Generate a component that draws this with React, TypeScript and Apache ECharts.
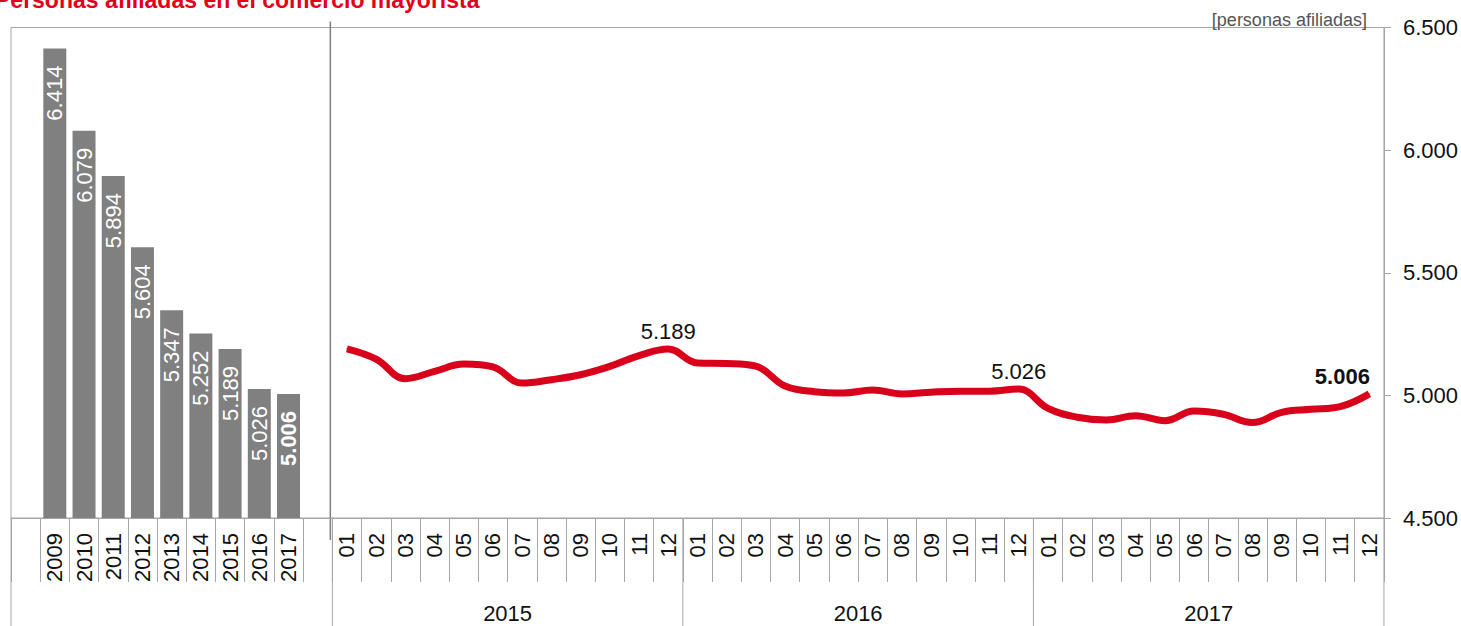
import React, { useEffect, useRef } from "react";
import * as echarts from "echarts";

const TITLE = "Personas afiliadas en el comercio mayorista";
const UNIT = "[personas afiliadas]";
const barYears = ["2009", "2010", "2011", "2012", "2013", "2014", "2015", "2016", "2017"];
const barValues = [6414, 6079, 5894, 5604, 5347, 5252, 5189, 5026, 5006];
const lineYears = ["2015", "2016", "2017"];
const months = ["01", "02", "03", "04", "05", "06", "07", "08", "09", "10", "11", "12"];
const values2015 = [5190, 5148, 5068, 5098, 5128, 5116, 5050, 5064, 5084, 5118, 5162, 5189];
const values2016 = [5132, 5130, 5119, 5038, 5015, 5010, 5022, 5006, 5013, 5017, 5017, 5026];
const values2017 = [4947, 4911, 4900, 4917, 4897, 4936, 4923, 4889, 4931, 4943, 4954, 5006];
const labeledMonth = "12";
const yTicks = [4500, 5000, 5500, 6000, 6500];

const FONT = "'Liberation Sans', Arial, sans-serif";
const FS = 22;
const fmt = (v: number) => String(v).replace(/\B(?=(\d{3})+(?!\d))/g, ".");

export default function App() {
  const ref = useRef<HTMLDivElement>(null);
  useEffect(() => {
    document.body.style.margin = "0";
    const el = ref.current!;
    const chart = echarts.init(el, null, { renderer: "svg" });

    const categories: string[] = ["", ...barYears, ""];
    lineYears.forEach(() => months.forEach((m) => categories.push(m)));
    const leftSlots = barYears.length + 2;

    const barData: any[] = [null];
    barValues.forEach((v, i) =>
      barData.push(
        i === barValues.length - 1 ? { value: v, label: { fontWeight: "bold" } } : v
      )
    );
    while (barData.length < categories.length) barData.push(null);

    const lineData: any[] = [];
    for (let i = 0; i < leftSlots; i++) lineData.push(null);
    const allLine = [values2015, values2016, values2017];
    allLine.forEach((arr, yi) =>
      arr.forEach((v, mi) => {
        if (months[mi] === labeledMonth) {
          const last = yi === allLine.length - 1;
          lineData.push({
            value: v,
            label: {
              show: true,
              fontWeight: last ? "bold" : "normal",
              offset: last ? [-27, 0] : [0, 0],
            },
          });
        } else lineData.push(v);
      })
    );

    chart.setOption({
      animation: false,
      grid: {
        left: 11,
        right: 76,
        top: 27.5,
        bottom: 108,
        show: true,
        borderColor: "#a6a6a6",
        borderWidth: 1,
      },
      xAxis: {
        type: "category",
        data: categories,
        boundaryGap: true,
        axisLine: { show: true, lineStyle: { color: "#a6a6a6" } },
        axisTick: {
          show: true,
          interval: 0,
          length: 64,
          lineStyle: { color: "#a6a6a6" },
        },
        axisLabel: {
          interval: 0,
          rotate: 90,
          margin: 15,
          fontSize: FS,
          fontFamily: FONT,
          color: "#111",
        },
        splitLine: { show: false },
      },
      yAxis: {
        type: "value",
        position: "right",
        min: yTicks[0],
        max: yTicks[yTicks.length - 1],
        interval: 500,
        axisLine: { show: true, lineStyle: { color: "#a6a6a6" } },
        axisTick: { show: true, length: 7, lineStyle: { color: "#a6a6a6" } },
        axisLabel: {
          margin: 19,
          fontSize: FS,
          fontFamily: FONT,
          color: "#111",
          formatter: (v: number) => fmt(v),
        },
        splitLine: { show: false },
      },
      series: [
        {
          type: "bar",
          data: barData,
          barWidth: 23,
          itemStyle: { color: "#808080" },
          label: {
            show: true,
            position: "insideTop",
            distance: 17,
            rotate: 90,
            align: "right",
            verticalAlign: "middle",
            color: "#fff",
            fontSize: FS,
            fontFamily: FONT,
            formatter: (p: any) => fmt(p.value),
          },
        },
        {
          type: "line",
          data: lineData,
          smooth: 0.4,
          showSymbol: true,
          showAllSymbol: true,
          symbol: "circle",
          symbolSize: 1,
          itemStyle: { color: "#d9001c" },
          lineStyle: { color: "#d9001c", width: 7 },
          label: {
            show: false,
            position: "top",
            distance: 6,
            color: "#111",
            fontSize: FS,
            fontFamily: FONT,
            formatter: (p: any) => fmt(p.value),
          },
        },
      ],
    });

    const cx = (i: number) => chart.convertToPixel({ xAxisIndex: 0 }, i) as number;
    const w = cx(1) - cx(0);
    const bx = (i: number) => cx(i) - w / 2;
    const yTop = chart.convertToPixel({ yAxisIndex: 0 }, yTicks[yTicks.length - 1]) as number;
    const yBot = chart.convertToPixel({ yAxisIndex: 0 }, yTicks[0]) as number;
    const H = el.clientHeight;

    const bounds = [0, leftSlots];
    lineYears.forEach((_, i) => bounds.push(leftSlots + months.length * (i + 1)));

    const graphics: any[] = [
      {
        type: "text",
        x: -5,
        y: 11,
        style: {
          text: TITLE,
          fill: "#e2001a",
          fontSize: 23,
          fontWeight: "bold",
          fontFamily: FONT,
          verticalAlign: "bottom",
        },
      },
      {
        type: "text",
        x: bx(categories.length) - 17,
        y: yTop + 1,
        style: {
          text: UNIT,
          fill: "#555",
          fontSize: 18,
          fontFamily: FONT,
          align: "right",
          verticalAlign: "bottom",
        },
      },
      {
        type: "line",
        shape: { x1: bx(leftSlots) - 2, y1: yTop - 6, x2: bx(leftSlots) - 2, y2: yBot + 22 },
        style: { stroke: "#808080", lineWidth: 1.5 },
      },
    ];
    bounds.forEach((b) =>
      graphics.push({
        type: "line",
        shape: { x1: bx(b), y1: yBot, x2: bx(b), y2: H },
        style: { stroke: "#a6a6a6", lineWidth: 1 },
      })
    );
    lineYears.forEach((yr, i) => {
      const a = bx(bounds[i + 1]);
      const b = bx(bounds[i + 2]);
      graphics.push({
        type: "text",
        x: (a + b) / 2,
        y: yBot + 95,
        style: {
          text: yr,
          fill: "#111",
          fontSize: FS,
          fontFamily: FONT,
          align: "center",
          verticalAlign: "middle",
        },
      });
    });
    chart.setOption({ graphic: graphics });

    return () => chart.dispose();
  }, []);
  return <div ref={ref} style={{ width: 1461, height: 626 }} />;
}
